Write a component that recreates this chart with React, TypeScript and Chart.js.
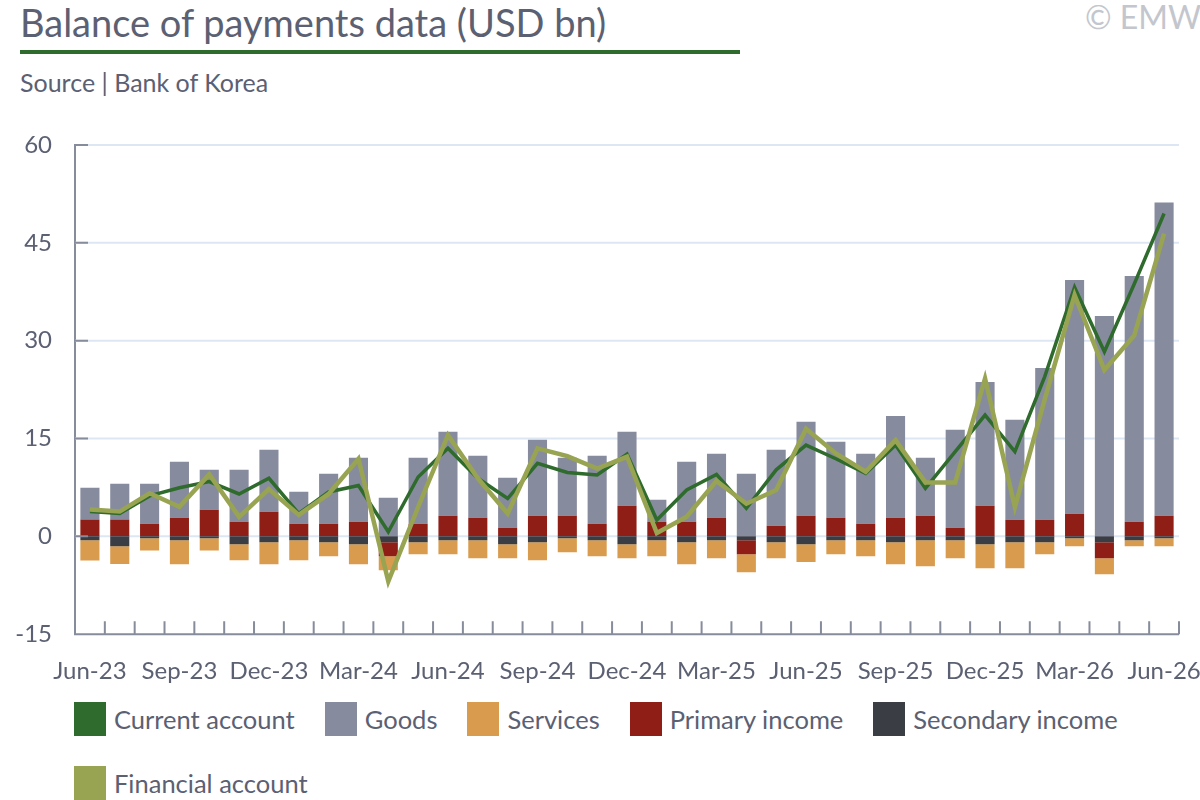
import { useEffect, useRef } from "react";
import { Chart, registerables } from "chart.js";

Chart.register(...registerables);

document.body.style.margin = "0";

const months = [
  "Jun-23", "Jul-23", "Aug-23", "Sep-23", "Oct-23", "Nov-23", "Dec-23",
  "Jan-24", "Feb-24", "Mar-24", "Apr-24", "May-24", "Jun-24", "Jul-24",
  "Aug-24", "Sep-24", "Oct-24", "Nov-24", "Dec-24", "Jan-25", "Feb-25",
  "Mar-25", "Apr-25", "May-25", "Jun-25", "Jul-25", "Aug-25", "Sep-25",
  "Oct-25", "Nov-25", "Dec-25", "Jan-26", "Feb-26", "Mar-26", "Apr-26",
  "May-26", "Jun-26",
];

const goods = [
  4.85, 5.47, 6.12, 8.58, 6.12, 7.95, 9.49, 4.89, 7.65, 9.8, 5.92, 10.1, 12.86,
  9.5, 7.66, 11.63, 8.88, 10.41, 11.33, 3.35, 9.19, 9.8, 9.6, 11.63, 14.39,
  11.64, 10.71, 15.61, 8.88, 15.0, 18.98, 15.32, 23.25, 35.83, 33.8, 37.65, 48.03,
];
const services = [
  -3.1, -2.75, -1.85, -3.67, -1.85, -2.45, -3.37, -3.06, -2.14, -3.06, -2.14,
  -1.84, -2.14, -2.75, -2.14, -2.75, -2.14, -2.45, -2.14, -2.45, -3.37, -2.75,
  -2.75, -2.45, -2.75, -2.14, -2.45, -3.37, -3.98, -2.75, -3.67, -3.98, -1.84,
  -1.22, -2.45, -0.92, -1.22,
];
const primaryIncome = [
  2.6, 2.6, 1.95, 2.86, 4.08, 2.25, 3.78, 1.95, 1.95, 2.25, -2.14, 1.95, 3.17,
  2.86, 1.33, 3.17, 3.17, 1.95, 4.7, 2.25, 2.25, 2.86, -2.14, 1.64, 3.17, 2.86,
  1.95, 2.86, 3.17, 1.33, 4.7, 2.55, 2.55, 3.47, -2.45, 2.25, 3.17,
];
const secondaryIncome = [
  -0.6, -1.5, -0.3, -0.6, -0.3, -1.2, -0.9, -0.6, -0.9, -1.2, -0.9, -0.9, -0.6,
  -0.6, -1.2, -0.9, -0.3, -0.6, -1.2, -0.6, -0.9, -0.6, -0.6, -0.9, -1.2, -0.6,
  -0.6, -0.9, -0.6, -0.6, -1.2, -0.9, -0.9, -0.3, -0.9, -0.6, -0.3,
];
const currentAccount = [
  3.8, 3.5, 6.2, 7.45, 8.4, 6.5, 8.9, 3.5, 6.8, 7.8, 0.7, 9.1, 13.5, 8.9, 5.8,
  11.2, 9.8, 9.4, 12.6, 2.5, 7.1, 9.5, 4.3, 10.2, 14.0, 11.9, 9.65, 14.0, 7.35,
  13.0, 18.6, 13.0, 24.5, 38.2, 28.3, 38.7, 49.5,
];
const financialAccount = [
  4.1, 3.8, 6.6, 4.55, 9.5, 3.0, 7.25, 3.3, 6.5, 11.9, -6.9, 4.5, 15.5, 8.9, 3.5,
  13.5, 12.3, 10.4, 12.2, 0.5, 3.0, 8.5, 5.0, 7.1, 16.5, 12.7, 9.9, 14.75, 8.27,
  8.27, 24.2, 4.5, 21, 37, 25.5, 30.8, 46.4,
];

const yTicks = [-15, 0, 15, 30, 45, 60];

const C = {
  current: "#2e6b2c",
  goods: "#878b9e",
  services: "#d99c4e",
  primary: "#8f1f16",
  secondary: "#3b3d45",
  financial: "#98a452",
  text: "#5b6072",
  axis: "#868c9c",
  grid: "#dde7f3",
};

const legendItems = [
  { label: "Current account", color: C.current },
  { label: "Goods", color: C.goods },
  { label: "Services", color: C.services },
  { label: "Primary income", color: C.primary },
  { label: "Secondary income", color: C.secondary },
  { label: "Financial account", color: C.financial },
];

// gridlines kept to the x range of the category scale
const gridLines = {
  id: "gridLines",
  beforeDatasetsDraw(chart: any) {
    const { ctx, scales } = chart;
    const x = scales.x;
    const y = scales.y;
    ctx.save();
    ctx.strokeStyle = C.grid;
    ctx.lineWidth = 2;
    ctx.beginPath();
    y.ticks.forEach((t: any) => {
      if (t.value === y.min) return;
      const py = y.getPixelForValue(t.value);
      ctx.moveTo(x.left, py);
      ctx.lineTo(x.right, py);
    });
    ctx.stroke();
    ctx.restore();
  },
};

// bottom axis line and short tick marks drawn inside the plot
const inwardTicks = {
  id: "inwardTicks",
  afterDraw(chart: any) {
    const { ctx, scales } = chart;
    const x = scales.x;
    const y = scales.y;
    const bottom = y.getPixelForValue(y.min);
    ctx.save();
    ctx.strokeStyle = C.axis;
    ctx.lineWidth = 2;
    ctx.beginPath();
    ctx.moveTo(x.left - 1, bottom);
    ctx.lineTo(x.right, bottom);
    y.ticks.forEach((t: any) => {
      const py = y.getPixelForValue(t.value);
      ctx.moveTo(x.left, py);
      ctx.lineTo(x.left + 13, py);
    });
    for (let i = 1; i <= months.length; i++) {
      const px = x.getPixelForValue(i - 0.5);
      ctx.moveTo(px, bottom);
      ctx.lineTo(px, bottom - 13);
    }
    ctx.stroke();
    ctx.restore();
  },
};

function BopChart() {
  const ref = useRef<HTMLCanvasElement>(null);

  useEffect(() => {
    if (!ref.current) return;
    const bar = (label: string, data: number[], color: string) => ({
      type: "bar" as const,
      label,
      data,
      backgroundColor: color,
      stack: "bop",
      order: 1,
      barPercentage: 1,
      categoryPercentage: 0.64,
    });
    const chart = new Chart(ref.current, {
      type: "bar",
      data: {
        labels: months,
        datasets: [
          bar("Secondary income", secondaryIncome, C.secondary),
          bar("Primary income", primaryIncome, C.primary),
          bar("Goods", goods, C.goods),
          bar("Services", services, C.services),
          {
            type: "line",
            label: "Current account",
            data: currentAccount,
            borderColor: C.current,
            borderWidth: 3.5,
            pointRadius: 0,
            tension: 0,
            stack: "ca",
            order: -1,
          } as any,
          {
            type: "line",
            label: "Financial account",
            data: financialAccount,
            borderColor: C.financial,
            borderWidth: 4.5,
            pointRadius: 0,
            tension: 0,
            stack: "fa",
            order: -2,
          } as any,
        ],
      },
      options: {
        responsive: true,
        maintainAspectRatio: false,
        animation: false,
        layout: { padding: { top: 25, right: 21, left: 0, bottom: 0 } },
        plugins: { legend: { display: false }, tooltip: { enabled: false } },
        scales: {
          x: {
            stacked: true,
            afterFit: (s: any) => {
              s.paddingLeft = 0;
              s.paddingRight = 0;
            },
            grid: { display: false },
            border: { display: false },
            ticks: {
              autoSkip: false,
              maxRotation: 0,
              padding: 15,
              color: C.text,
              font: { family: "Lato", size: 24 },
              callback: (_v, i) => (i % 3 === 0 ? months[i] : ""),
            },
          },
          y: {
            stacked: true,
            min: -15,
            max: 60,
            afterFit: (s: any) => {
              s.width = 75;
              s.paddingTop = 0;
              s.paddingBottom = 0;
            },
            afterBuildTicks: (s: any) => {
              s.ticks = yTicks.map((v) => ({ value: v }));
            },
            grid: { display: false },
            border: { display: true, color: C.axis, width: 2 },
            ticks: {
              padding: 15,
              color: C.text,
              font: { family: "Lato", size: 24 },
            },
          },
        },
      },
      plugins: [gridLines, inwardTicks],
    });
    return () => chart.destroy();
  }, []);

  return (
    <div style={{ position: "absolute", left: 0, top: 120, width: 1200, height: 581 }}>
      <canvas ref={ref} />
    </div>
  );
}

export default function App() {
  return (
    <div
      style={{
        position: "relative",
        width: 1200,
        height: 800,
        overflow: "hidden",
        background: "#fff",
        fontFamily: "Lato, sans-serif",
        color: C.text,
      }}
    >
      <div style={{ position: "absolute", left: 20, top: 0, fontSize: 38, lineHeight: "44px", whiteSpace: "nowrap" }}>
        Balance of payments data (USD bn)
      </div>
      <div style={{ position: "absolute", left: 20, top: 50, width: 720, height: 4, background: C.current }} />
      <div style={{ position: "absolute", left: 20, top: 67, fontSize: 25, lineHeight: "30px", whiteSpace: "nowrap" }}>
        Source | Bank of Korea
      </div>
      <div
        style={{
          position: "absolute",
          left: 1085,
          top: -2,
          fontSize: 32,
          lineHeight: "38px",
          color: "#c3c6cd",
          whiteSpace: "nowrap",
        }}
      >
        © EMW
      </div>
      <BopChart />
      <div
        style={{
          position: "absolute",
          left: 74,
          top: 702,
          width: 1100,
          display: "flex",
          flexWrap: "wrap",
          rowGap: 30,
        }}
      >
        {legendItems.map((it) => (
          <div key={it.label} style={{ display: "flex", alignItems: "center", marginRight: 30, height: 34 }}>
            <div style={{ width: 32, height: 34, background: it.color, marginRight: 8 }} />
            <span style={{ fontSize: 25.5, whiteSpace: "nowrap" }}>{it.label}</span>
          </div>
        ))}
      </div>
    </div>
  );
}
